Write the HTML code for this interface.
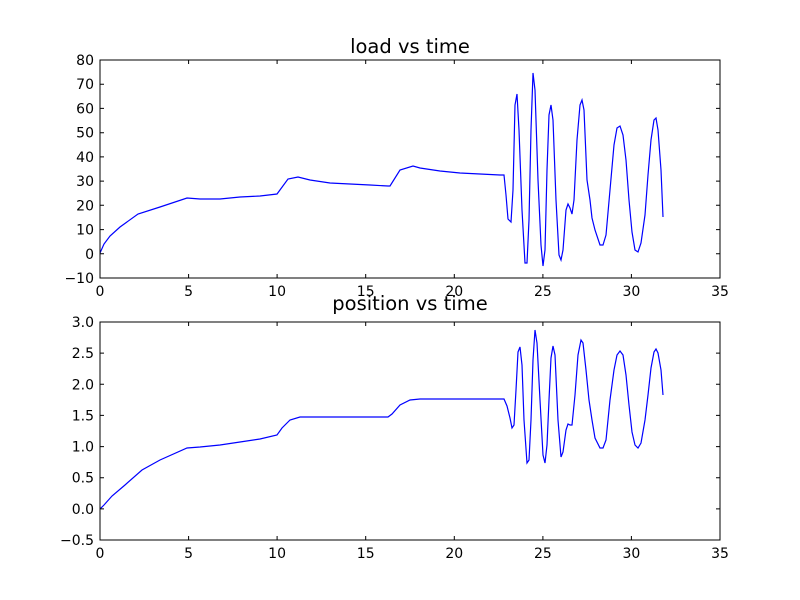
<!DOCTYPE html>
<html><head><meta charset="utf-8"><style>body{margin:0;background:#fff}svg{display:block}</style></head><body>
<svg width="800" height="600" xmlns="http://www.w3.org/2000/svg" font-family="DejaVu Sans, Liberation Sans, sans-serif">
<rect width="800" height="600" fill="#fff"/>
<!-- top axes -->
<text x="410" y="53" font-size="19.5" text-anchor="middle">load vs time</text>
<polyline fill="none" stroke="#0000ff" stroke-width="1.2" points="100,253 104,244 110,236 120,227 138,214 160,207 187,198 200,199 220,199 240,197 260,196 277,194 288,179 298,177 310,180 330,183 350,184 370,185 388,186 390,186 400,170 413,166 420,168 440,171 460,173 480,174 500,175 504,175 506,195 508,219 511,222 513,190 515,105 517,94 519,130 522,210 525,263 527,263 529,220 531,130 533,73 535,90 538,180 541,245 543,266 545,250 547,170 549,115 551,105 553,120 556,200 559,255 561,260 563,250 566,210 568,204 570,208 572,214 574,200 577,140 580,105 582,100 584,110 587,180 590,200 592,218 595,230 600,245 603,245 606,235 610,190 614,145 617,128 620,126 623,135 626,160 629,200 632,232 635,250 638,252 641,243 645,215 648,175 651,140 654,120 656,118 658,130 661,170 663,217"/>
<rect x="100" y="60" width="620" height="218" fill="none" stroke="#000" stroke-width="1"/>
<g stroke="#000" stroke-width="1">
<path d="M100,278v-4M100,60v4M188.6,278v-4M188.6,60v4M277.1,278v-4M277.1,60v4M365.7,278v-4M365.7,60v4M454.3,278v-4M454.3,60v4M542.9,278v-4M542.9,60v4M631.4,278v-4M631.4,60v4"/>
<path d="M100,60h4M720,60h-4M100,84.2h4M720,84.2h-4M100,108.4h4M720,108.4h-4M100,132.7h4M720,132.7h-4M100,156.9h4M720,156.9h-4M100,181.1h4M720,181.1h-4M100,205.3h4M720,205.3h-4M100,229.6h4M720,229.6h-4M100,253.8h4M720,253.8h-4"/>
</g>
<g font-size="14" text-anchor="middle">
<text x="100" y="296">0</text><text x="188.6" y="296">5</text><text x="277.1" y="296">10</text><text x="365.7" y="296">15</text><text x="454.3" y="296">20</text><text x="542.9" y="296">25</text><text x="631.4" y="296">30</text><text x="720" y="296">35</text>
</g>
<g font-size="14" text-anchor="end">
<text x="94" y="65">80</text><text x="94" y="89.2">70</text><text x="94" y="113.4">60</text><text x="94" y="137.7">50</text><text x="94" y="161.9">40</text><text x="94" y="186.1">30</text><text x="94" y="210.3">20</text><text x="94" y="234.6">10</text><text x="94" y="258.8">0</text><text x="94" y="283">−10</text>
</g>
<!-- bottom axes -->
<text x="410" y="310" font-size="19.5" text-anchor="middle">position vs time</text>
<polyline fill="none" stroke="#0000ff" stroke-width="1.2" points="100,509 104,505 112,496 125,485 142,470 160,460 187,448 200,447 220,445 240,442 260,439 277,435 282,428 290,420 300,417 320,417 350,417 380,417 388,417 392,414 400,405 410,400 420,399 440,399 480,399 504,399 507,406 510,418 512,428 514,425 516,390 518,352 520,347 522,365 524,420 527,463 529,460 531,420 533,360 535,330 537,343 540,400 543,455 545,463 547,445 549,400 551,358 553,346 555,355 558,420 561,457 563,452 566,430 568,424 570,425 572,425 575,395 578,355 581,340 583,343 586,370 589,400 592,420 595,438 600,448 603,448 606,440 610,400 614,370 617,355 620,351 623,355 626,375 629,405 632,432 635,445 638,448 641,443 645,420 648,395 651,368 654,352 656,349 658,353 661,370 663,395"/>
<rect x="100" y="322" width="620" height="218" fill="none" stroke="#000" stroke-width="1"/>
<g stroke="#000" stroke-width="1">
<path d="M100,540v-4M100,322v4M188.6,540v-4M188.6,322v4M277.1,540v-4M277.1,322v4M365.7,540v-4M365.7,322v4M454.3,540v-4M454.3,322v4M542.9,540v-4M542.9,322v4M631.4,540v-4M631.4,322v4"/>
<path d="M100,322h4M720,322h-4M100,353.1h4M720,353.1h-4M100,384.3h4M720,384.3h-4M100,415.4h4M720,415.4h-4M100,446.6h4M720,446.6h-4M100,477.7h4M720,477.7h-4M100,508.9h4M720,508.9h-4"/>
</g>
<g font-size="14" text-anchor="middle">
<text x="100" y="558">0</text><text x="188.6" y="558">5</text><text x="277.1" y="558">10</text><text x="365.7" y="558">15</text><text x="454.3" y="558">20</text><text x="542.9" y="558">25</text><text x="631.4" y="558">30</text><text x="720" y="558">35</text>
</g>
<g font-size="14" text-anchor="end">
<text x="94" y="327">3.0</text><text x="94" y="358.1">2.5</text><text x="94" y="389.3">2.0</text><text x="94" y="420.4">1.5</text><text x="94" y="451.6">1.0</text><text x="94" y="482.7">0.5</text><text x="94" y="513.9">0.0</text><text x="94" y="545">−0.5</text>
</g>
</svg>
</body></html>
